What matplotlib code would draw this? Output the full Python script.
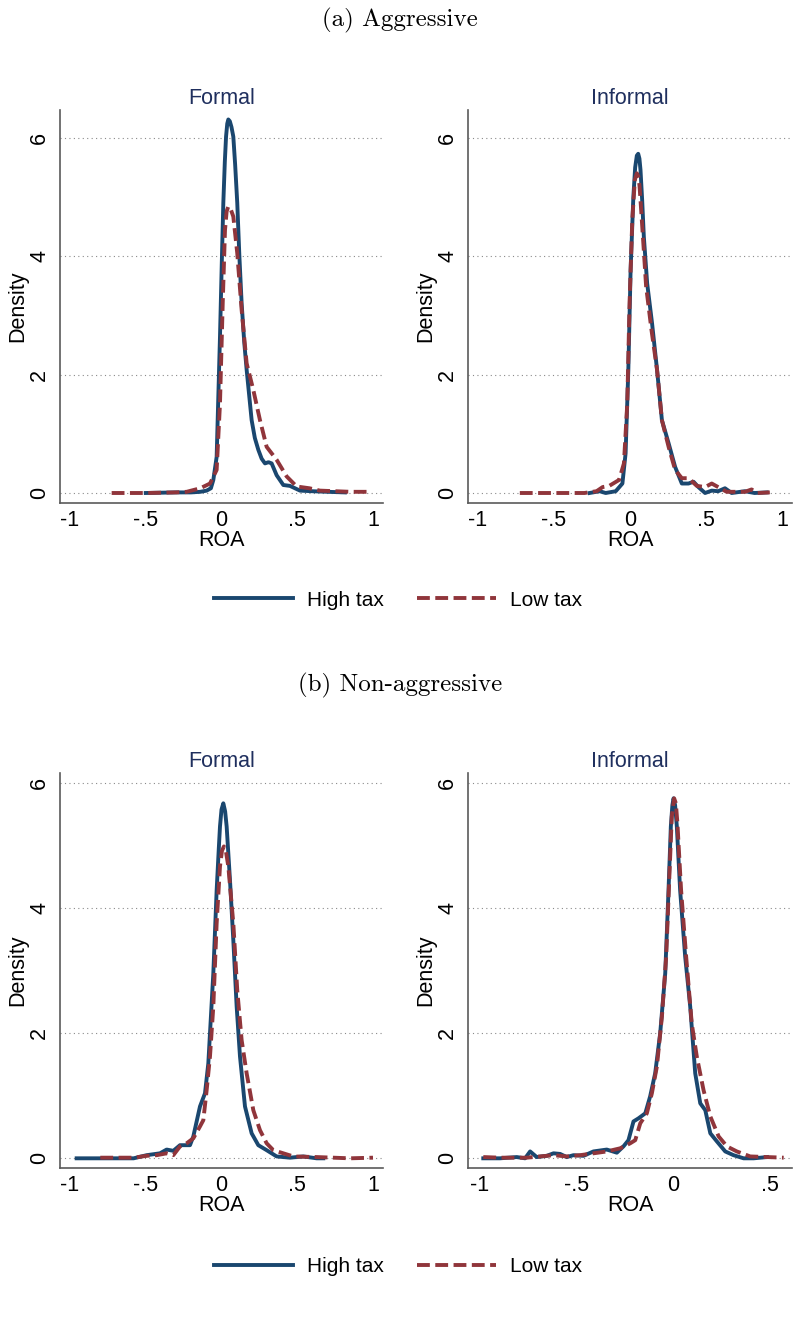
import numpy as np
import matplotlib.pyplot as plt
from matplotlib.lines import Line2D

# Farben (Stata s2color: navy / maroon)
c_high = "#1a476f"
c_low = "#90353b"
c_title = "#1f2f5e"

# (a) Aggressive, Formal
a_formal_high_x = [-0.50, -0.30, -0.20, -0.14, -0.098, -0.070, -0.054, -0.032, -0.010, 0.002, 0.012,
                   0.022, 0.030, 0.038, 0.045, 0.055, 0.066, 0.078, 0.090, 0.104, 0.118, 0.133,
                   0.150, 0.166, 0.199, 0.220, 0.243, 0.265, 0.287, 0.310, 0.331, 0.364,
                   0.408, 0.452, 0.518, 0.60, 0.70, 0.815]
a_formal_high_y = [0.00, 0.01, 0.01, 0.02, 0.04, 0.08, 0.22, 0.61, 2.64, 3.90, 4.90,
                   5.60, 6.02, 6.24, 6.31, 6.28, 6.18, 6.02, 5.55, 4.90, 4.00, 3.20,
                   2.55, 2.08, 1.23, 0.93, 0.73, 0.58, 0.50, 0.52, 0.50, 0.30,
                   0.135, 0.12, 0.04, 0.03, 0.02, 0.01]
a_formal_low_x = [-0.725, -0.50, -0.30, -0.23, -0.14, -0.076, -0.032, -0.010, 0.008, 0.023, 0.034,
                  0.045, 0.060, 0.078, 0.104, 0.133, 0.166, 0.21, 0.254, 0.298, 0.364, 0.43,
                  0.496, 0.58, 0.65, 0.75, 0.85, 0.98]
a_formal_low_y = [0.00, 0.00, 0.01, 0.02, 0.08, 0.16, 0.39, 1.51, 3.20, 4.44, 4.76,
                  4.84, 4.80, 4.67, 4.05, 3.09, 2.19, 1.74, 1.23, 0.78, 0.56, 0.28,
                  0.11, 0.08, 0.04, 0.03, 0.02, 0.02]

# (a) Aggressive, Informal
a_inf_high_x = [-0.266, -0.20, -0.16, -0.094, -0.05, -0.029, -0.011, 0.004, 0.022, 0.034, 0.045,
                0.054, 0.062, 0.069, 0.080, 0.091, 0.113, 0.145, 0.178, 0.21, 0.254, 0.297,
                0.341, 0.385, 0.418, 0.45, 0.494, 0.538, 0.58, 0.625, 0.669, 0.756, 0.82, 0.90]
a_inf_high_y = [0.00, 0.03, 0.00, 0.03, 0.16, 0.67, 2.08, 3.77, 5.00, 5.50, 5.70,
                5.73, 5.65, 5.46, 4.95, 4.33, 3.54, 2.87, 2.08, 1.23, 0.84, 0.44,
                0.16, 0.16, 0.19, 0.10, 0.00, 0.04, 0.03, 0.08, 0.00, 0.03, 0.00, 0.01]
a_inf_low_x = [-0.725, -0.50, -0.30, -0.22, -0.18, -0.137, -0.072, -0.04, -0.018, -0.003, 0.015,
               0.032, 0.045, 0.055, 0.063, 0.085, 0.106, 0.141, 0.178, 0.21, 0.254, 0.297,
               0.341, 0.385, 0.44, 0.494, 0.538, 0.58, 0.636, 0.756, 0.80, 0.84, 0.92]
a_inf_low_y = [0.00, 0.00, 0.00, 0.03, 0.10, 0.12, 0.22, 0.50, 1.51, 3.20, 4.61,
               5.29, 5.40, 5.35, 5.18, 4.33, 3.49, 2.76, 2.08, 1.23, 0.78, 0.39,
               0.25, 0.25, 0.12, 0.10, 0.16, 0.10, 0.02, 0.02, 0.06, 0.00, 0.01]

# (b) Non-aggressive, Formal
b_formal_high_x = [-0.956, -0.80, -0.58, -0.494, -0.406, -0.362, -0.318, -0.274, -0.208, -0.186, -0.142,
                   -0.109, -0.087, -0.054, -0.032, -0.018, -0.010, 0.000, 0.012, 0.024, 0.034, 0.056,
                   0.078, 0.100, 0.122, 0.155, 0.199, 0.243, 0.298, 0.364, 0.452, 0.54, 0.628, 0.672]
b_formal_high_y = [0.00, 0.00, 0.00, 0.05, 0.08, 0.14, 0.12, 0.21, 0.21, 0.35, 0.83,
                   1.04, 1.52, 2.96, 4.29, 4.95, 5.31, 5.58, 5.68, 5.55, 5.31, 4.45,
                   3.49, 2.43, 1.63, 0.83, 0.40, 0.21, 0.13, 0.03, 0.01, 0.03, 0.00, 0.00]
b_formal_low_x = [-0.80, -0.58, -0.494, -0.428, -0.362, -0.318, -0.274, -0.23, -0.186, -0.142, -0.12,
                  -0.098, -0.076, -0.054, -0.032, -0.010, 0.003, 0.016, 0.030, 0.045, 0.078, 0.104,
                  0.133, 0.166, 0.21, 0.254, 0.298, 0.342, 0.408, 0.474, 0.628, 0.848, 1.0]
b_formal_low_y = [0.01, 0.01, 0.04, 0.05, 0.08, 0.05, 0.19, 0.24, 0.32, 0.51, 0.61,
                  1.09, 1.63, 2.43, 3.76, 4.67, 4.92, 4.99, 4.90, 4.67, 3.76, 2.69,
                  1.89, 1.36, 0.77, 0.45, 0.24, 0.13, 0.08, 0.03, 0.02, 0.00, 0.01]

# (b) Non-aggressive, Informal
b_inf_high_x = [-0.983, -0.897, -0.81, -0.767, -0.741, -0.707, -0.655, -0.62, -0.586, -0.552, -0.517,
                -0.465, -0.414, -0.345, -0.293, -0.259, -0.233, -0.207, -0.181, -0.146, -0.121, -0.095,
                -0.069, -0.043, -0.026, -0.014, -0.006, 0.0, 0.008, 0.017, 0.034, 0.060, 0.086, 0.112,
                0.138, 0.164, 0.19, 0.224, 0.267, 0.310, 0.362, 0.414, 0.483]
b_inf_high_y = [0.00, 0.00, 0.02, 0.00, 0.11, 0.02, 0.04, 0.08, 0.07, 0.02, 0.05,
                0.04, 0.11, 0.14, 0.09, 0.19, 0.29, 0.59, 0.64, 0.72, 0.99, 1.36,
                2.00, 2.96, 4.29, 5.31, 5.65, 5.76, 5.65, 5.31, 4.29, 3.23, 2.43, 1.36,
                0.88, 0.77, 0.40, 0.27, 0.11, 0.05, 0.00, 0.00, 0.02]
b_inf_low_x = [-0.983, -0.897, -0.759, -0.69, -0.62, -0.552, -0.483, -0.414, -0.345, -0.276, -0.224,
               -0.198, -0.172, -0.138, -0.112, -0.086, -0.060, -0.038, -0.021, -0.009, 0.003, 0.012,
               0.020, 0.039, 0.065, 0.094, 0.12, 0.155, 0.19, 0.233, 0.276, 0.327, 0.396, 0.483, 0.569]
b_inf_low_y = [0.02, 0.01, 0.01, 0.03, 0.05, 0.03, 0.05, 0.08, 0.11, 0.16, 0.24,
               0.29, 0.56, 0.72, 1.04, 1.47, 2.27, 3.23, 4.56, 5.47, 5.76, 5.68,
               5.36, 4.29, 3.23, 2.16, 1.63, 1.09, 0.67, 0.35, 0.19, 0.11, 0.03, 0.02, 0.01]

y_ticks = [0, 2, 4, 6]
x_ticks_full = [-1, -0.5, 0, 0.5, 1]
x_ticks_short = [-1, -0.5, 0, 0.5]


def fmt_tick(v):
    # Stata-Stil: -.5 statt -0.5
    if v == int(v):
        return str(int(v))
    return ("%g" % v).replace("0.", ".")


plt.rcParams["font.family"] = ["Liberation Sans", "DejaVu Sans"]

W, H = 809, 1330
fig = plt.figure(figsize=(W / 100, H / 100), dpi=100)

lw_pt = 2.8
dash = (3.3, 1.4)


def make_ax(left, right, top, bottom):
    return fig.add_axes([left / W, 1 - bottom / H, (right - left) / W, (bottom - top) / H])


def style_panel(ax, title, xlim, ylim, xticks):
    ax.set_xlim(*xlim)
    ax.set_ylim(*ylim)
    ax.set_xticks(xticks)
    ax.set_xticklabels([fmt_tick(v) for v in xticks], fontsize=15.5)
    ax.set_yticks(y_ticks)
    ax.set_yticklabels([str(v) for v in y_ticks], fontsize=15.5, rotation=90, va="center")
    ax.tick_params(axis="x", length=0, pad=5)
    ax.tick_params(axis="y", length=0, pad=7)
    ax.grid(axis="y", linestyle=(0, (1, 3)), color="#8a8a8a", linewidth=0.8)
    ax.set_axisbelow(True)
    for s in ["top", "right"]:
        ax.spines[s].set_visible(False)
    for s in ["left", "bottom"]:
        ax.spines[s].set_color("#5a5a5a")
        ax.spines[s].set_linewidth(1.2)
    ax.set_xlabel("ROA", fontsize=15.5, labelpad=-1)
    ax.set_ylabel("Density", fontsize=15.5, labelpad=1)
    ax.set_title(title, fontsize=15.5, color=c_title, pad=4)


def draw(ax, hx, hy, lx, ly):
    ax.plot(hx, hy, color=c_high, linewidth=lw_pt, solid_joinstyle="round")
    ax.plot(lx, ly, color=c_low, linewidth=lw_pt, dashes=dash, dash_capstyle="butt")


# Panel (a)
ax1 = make_ax(60, 383, 110, 503)
draw(ax1, a_formal_high_x, a_formal_high_y, a_formal_low_x, a_formal_low_y)
style_panel(ax1, "Formal", (-1.066, 1.066), (-0.169, 6.47), x_ticks_full)

ax2 = make_ax(468, 792, 110, 503)
draw(ax2, a_inf_high_x, a_inf_high_y, a_inf_low_x, a_inf_low_y)
style_panel(ax2, "Informal", (-1.066, 1.066), (-0.169, 6.47), x_ticks_full)

# Panel (b)
ax3 = make_ax(60, 383, 773, 1168)
draw(ax3, b_formal_high_x, b_formal_high_y, b_formal_low_x, b_formal_low_y)
style_panel(ax3, "Formal", (-1.066, 1.066), (-0.155, 6.165), x_ticks_full)

ax4 = make_ax(468, 792, 773, 1168)
draw(ax4, b_inf_high_x, b_inf_high_y, b_inf_low_x, b_inf_low_y)
style_panel(ax4, "Informal", (-1.062, 0.612), (-0.155, 6.165), x_ticks_short)

# Überschriften
fig.text(400 / W, 1 - 20 / H, "(a) Aggressive", family="cmr10", fontsize=18,
         ha="center", va="center")
fig.text(400 / W, 1 - 685 / H, "(b) Non-aggressive", family="cmr10", fontsize=18,
         ha="center", va="center")

# Legenden
handles = [Line2D([], [], color=c_high, linewidth=lw_pt),
           Line2D([], [], color=c_low, linewidth=lw_pt, dashes=dash)]
labels = ["High tax", "Low tax"]
for ycen in [600, 1267]:
    fig.legend(handles, labels, loc="center", bbox_to_anchor=(398 / W, 1 - ycen / H),
               ncol=2, frameon=False, fontsize=15, handlelength=3.8, handletextpad=0.65,
               columnspacing=1.6)

fig.savefig("out.png", dpi=100)
